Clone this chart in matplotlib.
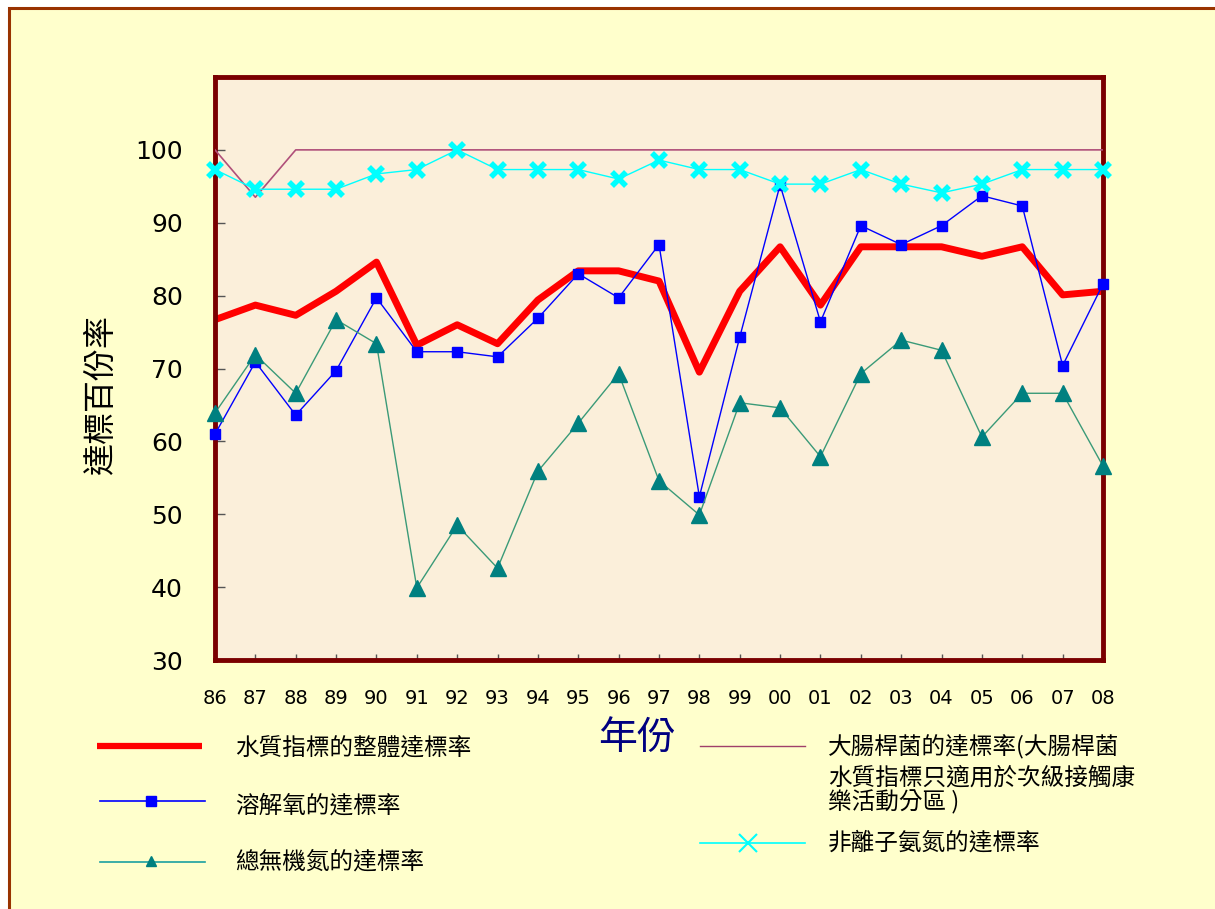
import matplotlib
matplotlib.use("Agg")
import matplotlib.pyplot as plt
from matplotlib.patches import Rectangle

# --- data ---
years = ["86", "87", "88", "89", "90", "91", "92", "93", "94", "95", "96", "97",
         "98", "99", "00", "01", "02", "03", "04", "05", "06", "07", "08"]

overall = [76.7, 78.7, 77.3, 80.6, 84.6, 73.2, 76.0, 73.4, 79.4, 83.4, 83.4, 82.0,
           69.5, 80.6, 86.7, 78.7, 86.7, 86.7, 86.7, 85.4, 86.7, 80.1, 80.6]
dissolved_o2 = [61.0, 70.9, 63.6, 69.7, 79.7, 72.3, 72.3, 71.6, 76.9, 83.0, 79.7, 87.0,
                52.4, 74.3, 95.2, 76.4, 89.6, 87.0, 89.6, 93.7, 92.3, 70.4, 81.6]
total_in = [63.9, 71.9, 66.6, 76.7, 73.4, 39.9, 48.5, 42.6, 55.9, 62.5, 69.3, 54.6,
            49.9, 65.3, 64.6, 57.9, 69.3, 73.9, 72.5, 60.6, 66.6, 66.6, 56.6]
e_coli = [100, 93.5, 100, 100, 100, 100, 100, 100, 100, 100, 100, 100,
          100, 100, 100, 100, 100, 100, 100, 100, 100, 100, 100]
unionized_nh3 = [97.3, 94.6, 94.6, 94.6, 96.7, 97.3, 100, 97.3, 97.3, 97.3, 96.0, 98.6,
                 97.3, 97.3, 95.3, 95.3, 97.3, 95.3, 94.1, 95.3, 97.3, 97.3, 97.3]

yticks = [30, 40, 50, 60, 70, 80, 90, 100]

lbl_overall = "水質指標的整體達標率"
lbl_do = "溶解氧的達標率"
lbl_tin = "總無機氮的達標率"
lbl_ecoli = ["大腸桿菌的達標率(大腸桿菌", "水質指標只適用於次級接觸康", "樂活動分區 )"]
lbl_nh3 = "非離子氨氮的達標率"

CJK = "Noto Sans CJK TC"
W, H = 1215, 909

fig = plt.figure(figsize=(W / 100, H / 100), dpi=100, facecolor="white")

# background frame, drawn in pixel coordinates
ov = fig.add_axes([0, 0, 1, 1], zorder=0)
ov.set_xlim(0, W)
ov.set_ylim(H, 0)
ov.axis("off")
ov.add_patch(Rectangle((9, 8), W + 20, H + 20, facecolor="#FFFFCC",
                       edgecolor="#993300", linewidth=2.2))

# main chart
ax = fig.add_axes([215 / W, 1 - 660 / H, 888 / W, 583 / H], zorder=1)
ax.set_facecolor("#FBEFDA")
x = list(range(len(years)))

ax.plot(x, overall, color="#FF0000", lw=5, zorder=2)
ax.plot(x, dissolved_o2, color="#0000FF", lw=1.0, marker="s", ms=7.5,
        mfc="#0000FF", mec="#0000FF", zorder=3, clip_on=False)
ax.plot(x, total_in, color="#3A9A78", lw=1.0, marker="^", ms=11,
        mfc="#008080", mec="#008080", zorder=4, clip_on=False)
ax.plot(x, e_coli, color="#B0507A", lw=1.2, zorder=5)
ax.plot(x, unionized_nh3, color="#00FFFF", lw=1.0, marker="x", ms=10, mew=4,
        zorder=6, clip_on=False)

ax.set_xlim(0, len(years) - 1)
ax.set_ylim(30, 110)
ax.set_xticks(x)
ax.set_xticklabels(years)
ax.set_yticks(yticks)
ax.tick_params(axis="x", direction="in", length=4, width=1, color="#555555",
               labelsize=14, pad=21)
ax.tick_params(axis="y", direction="in", length=7, width=1, color="#555555",
               labelsize=18, pad=23)
for spine in ax.spines.values():
    spine.set_color("#7A0000")
    spine.set_linewidth(3.5)

ax.set_ylabel("達標百份率", family=CJK, fontsize=23)
ax.yaxis.set_label_coords((117 - 215) / 888, (660 - 395) / 583)
ax.set_xlabel("年份", family=CJK, fontsize=28, color="#000080")
ax.xaxis.set_label_coords((637 - 215) / 888, (660 - 738) / 583)
ax.xaxis.label.set_va("center")

# hand-placed legend, same layout as the reference
ov2 = fig.add_axes([0, 0, 1, 1], zorder=2)
ov2.set_xlim(0, W)
ov2.set_ylim(H, 0)
ov2.axis("off")

ov2.plot([97, 202], [746, 746], color="#FF0000", lw=4.5, solid_capstyle="butt")
ov2.plot([100, 205], [801, 801], color="#0000FF", lw=1.2)
ov2.plot([151], [801], marker="s", ms=7, color="#0000FF")
ov2.plot([100, 205], [862, 862], color="#1AA0A0", lw=1.2)
ov2.plot([151], [861], marker="^", ms=7, color="#008080")
ov2.plot([700, 805], [746, 746], color="#A0406A", lw=1.0)
ov2.plot([700, 805], [843, 843], color="#00FFFF", lw=1.2)
ov2.plot([748], [843], marker="x", ms=13, mew=1.5, color="#00FFFF")

txt = dict(family=CJK, fontsize=17, color="black", va="center", ha="left")
ov2.text(235, 749, lbl_overall, **txt)
ov2.text(235, 806, lbl_do, **txt)
ov2.text(235, 862, lbl_tin, **txt)
ov2.text(828, 747, lbl_ecoli[0], **txt)
ov2.text(828, 778, lbl_ecoli[1], **txt)
ov2.text(828, 802, lbl_ecoli[2], **txt)
ov2.text(828, 843, lbl_nh3, **txt)

fig.savefig("out.png", dpi=100, facecolor=fig.get_facecolor())
